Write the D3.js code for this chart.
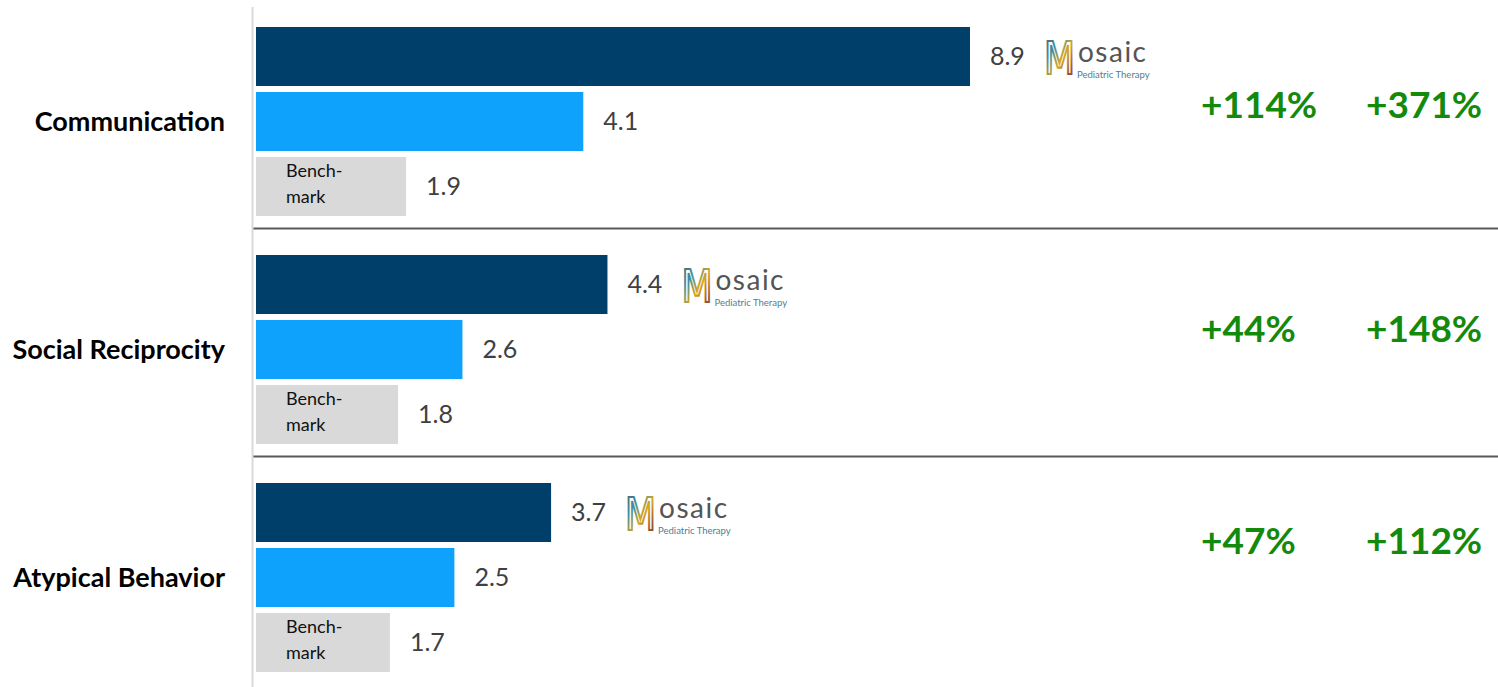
<!DOCTYPE html>
<html>
<head>
<meta charset="utf-8">
<script src="https://cdn.jsdelivr.net/npm/d3@7"></script>
<style>
  body { margin: 0; background: #fff; }
  svg { display: block; font-family: Lato, "Open Sans", sans-serif; }
</style>
</head>
<body>
<svg id="chart"></svg>
<script>
// data
const categories = ['Communication', 'Social Reciprocity', 'Atypical Behavior'];
const series = ['mosaic', 'other', 'benchmark'];
const mosaicValues = [8.9, 4.4, 3.7];
const otherValues = [4.1, 2.6, 2.5];
const benchmarkValues = [1.9, 1.8, 1.7];
const vsOther = ['+114%', '+44%', '+47%'];
const vsBenchmark = ['+371%', '+148%', '+112%'];

const width = 1498, height = 687;
const colors = { mosaic: '#003f69', other: '#0ea2fc', benchmark: '#d9d9d9' };

const svg = d3.select('#chart').attr('width', width).attr('height', height);

const defs = svg.append('defs');
const grad = defs.append('linearGradient').attr('id', 'mgrad')
    .attr('x1', '0%').attr('y1', '0%').attr('x2', '100%').attr('y2', '100%');
[['0%', '#5e5a50'], ['30%', '#3b8ea5'], ['55%', '#d9a520'], ['80%', '#a0522d'], ['100%', '#4b5b66']]
    .forEach(s => grad.append('stop').attr('offset', s[0]).attr('stop-color', s[1]));

const x = d3.scaleLinear().domain([0, 10]).range([253, 253 + 805.6]);
const barStart = 256;

const yGroup = d3.scaleBand().domain(categories).range([0, 684]).paddingInner(0);
const yBar = d3.scaleBand().domain(series).range([27, 216]).paddingInner(6 / 65);

const rows = categories.map((c, i) => ({
    cat: c,
    values: [mosaicValues[i], otherValues[i], benchmarkValues[i]],
    pctA: vsOther[i],
    pctB: vsBenchmark[i]
}));

const g = svg.selectAll('g.group').data(rows).join('g')
    .attr('class', 'group')
    .attr('transform', d => `translate(0, ${yGroup(d.cat)})`);

// bars
g.selectAll('rect.bar').data(d => d.values.map((v, j) => ({ key: series[j], v })))
    .join('rect')
    .attr('class', 'bar')
    .attr('x', barStart)
    .attr('y', d => yBar(d.key))
    .attr('width', d => x(d.v) - barStart)
    .attr('height', yBar.bandwidth())
    .attr('fill', d => colors[d.key]);

// value labels
g.selectAll('text.val').data(d => d.values.map((v, j) => ({ key: series[j], v })))
    .join('text')
    .attr('class', 'val')
    .attr('x', d => x(d.v) + 20)
    .attr('y', d => yBar(d.key) + yBar.bandwidth() / 2)
    .attr('dy', '0.35em')
    .attr('fill', '#404040')
    .style('font-size', '25px')
    .text(d => d3.format('.1f')(d.v));

// Bench-mark label inside grey bar
const bench = g.append('text')
    .attr('x', 286)
    .attr('fill', '#111')
    .style('font-size', '18px');
bench.append('tspan').attr('x', 286).attr('y', yBar('benchmark') + 20).text('Bench-');
bench.append('tspan').attr('x', 286).attr('y', yBar('benchmark') + 46).text('mark');

// Mosaic logo next to the dark bar
const logo = g.append('g')
    .attr('transform', d => `translate(${x(d.values[0]) + 73}, ${yBar('mosaic') + 13})`);
logo.append('text')
    .attr('x', 1).attr('y', 34)
    .attr('fill', '#fff')
    .attr('stroke', 'url(#mgrad)')
    .attr('stroke-width', 2.2)
    .style('font-size', '44px')
    .style('font-family', '"DejaVu Sans", sans-serif')
    .attr('textLength', 31)
    .attr('lengthAdjust', 'spacingAndGlyphs')
    .text('M');
logo.append('text')
    .attr('x', 35).attr('y', 22)
    .attr('fill', '#555')
    .style('font-size', '28px')
    .style('letter-spacing', '1.5px')
    .text('osaic');
logo.append('text')
    .attr('x', 34).attr('y', 38)
    .attr('fill', '#4d7f93')
    .style('font-size', '9.5px')
    .text('Pediatric Therapy');

// category labels
g.append('text')
    .attr('x', 225)
    .attr('y', yBar('other') + yBar.bandwidth() / 2)
    .attr('dy', '0.35em')
    .attr('text-anchor', 'end')
    .attr('fill', '#000')
    .style('font-size', '27px')
    .style('font-weight', 'bold')
    .text(d => d.cat);

// growth percentages
const pctY = [118, 114, 98];
g.append('text')
    .attr('x', 1201)
    .attr('y', (d, i) => pctY[i])
    .attr('fill', '#138a0c')
    .style('font-size', '37px')
    .style('font-weight', 'bold')
    .text(d => d.pctA);
g.append('text')
    .attr('x', 1366)
    .attr('y', (d, i) => pctY[i])
    .attr('fill', '#138a0c')
    .style('font-size', '37px')
    .style('font-weight', 'bold')
    .text(d => d.pctB);

// separators between groups
svg.selectAll('line.sep').data(categories.slice(1)).join('line')
    .attr('class', 'sep')
    .attr('x1', 252).attr('x2', width)
    .attr('y1', d => yGroup(d) + 0.5).attr('y2', d => yGroup(d) + 0.5)
    .attr('stroke', '#595959')
    .attr('stroke-width', 2);

// vertical axis line
svg.append('line')
    .attr('x1', 252.5).attr('x2', 252.5)
    .attr('y1', 7).attr('y2', height)
    .attr('stroke', '#d9d9d9')
    .attr('stroke-width', 2);
</script>
</body>
</html>
